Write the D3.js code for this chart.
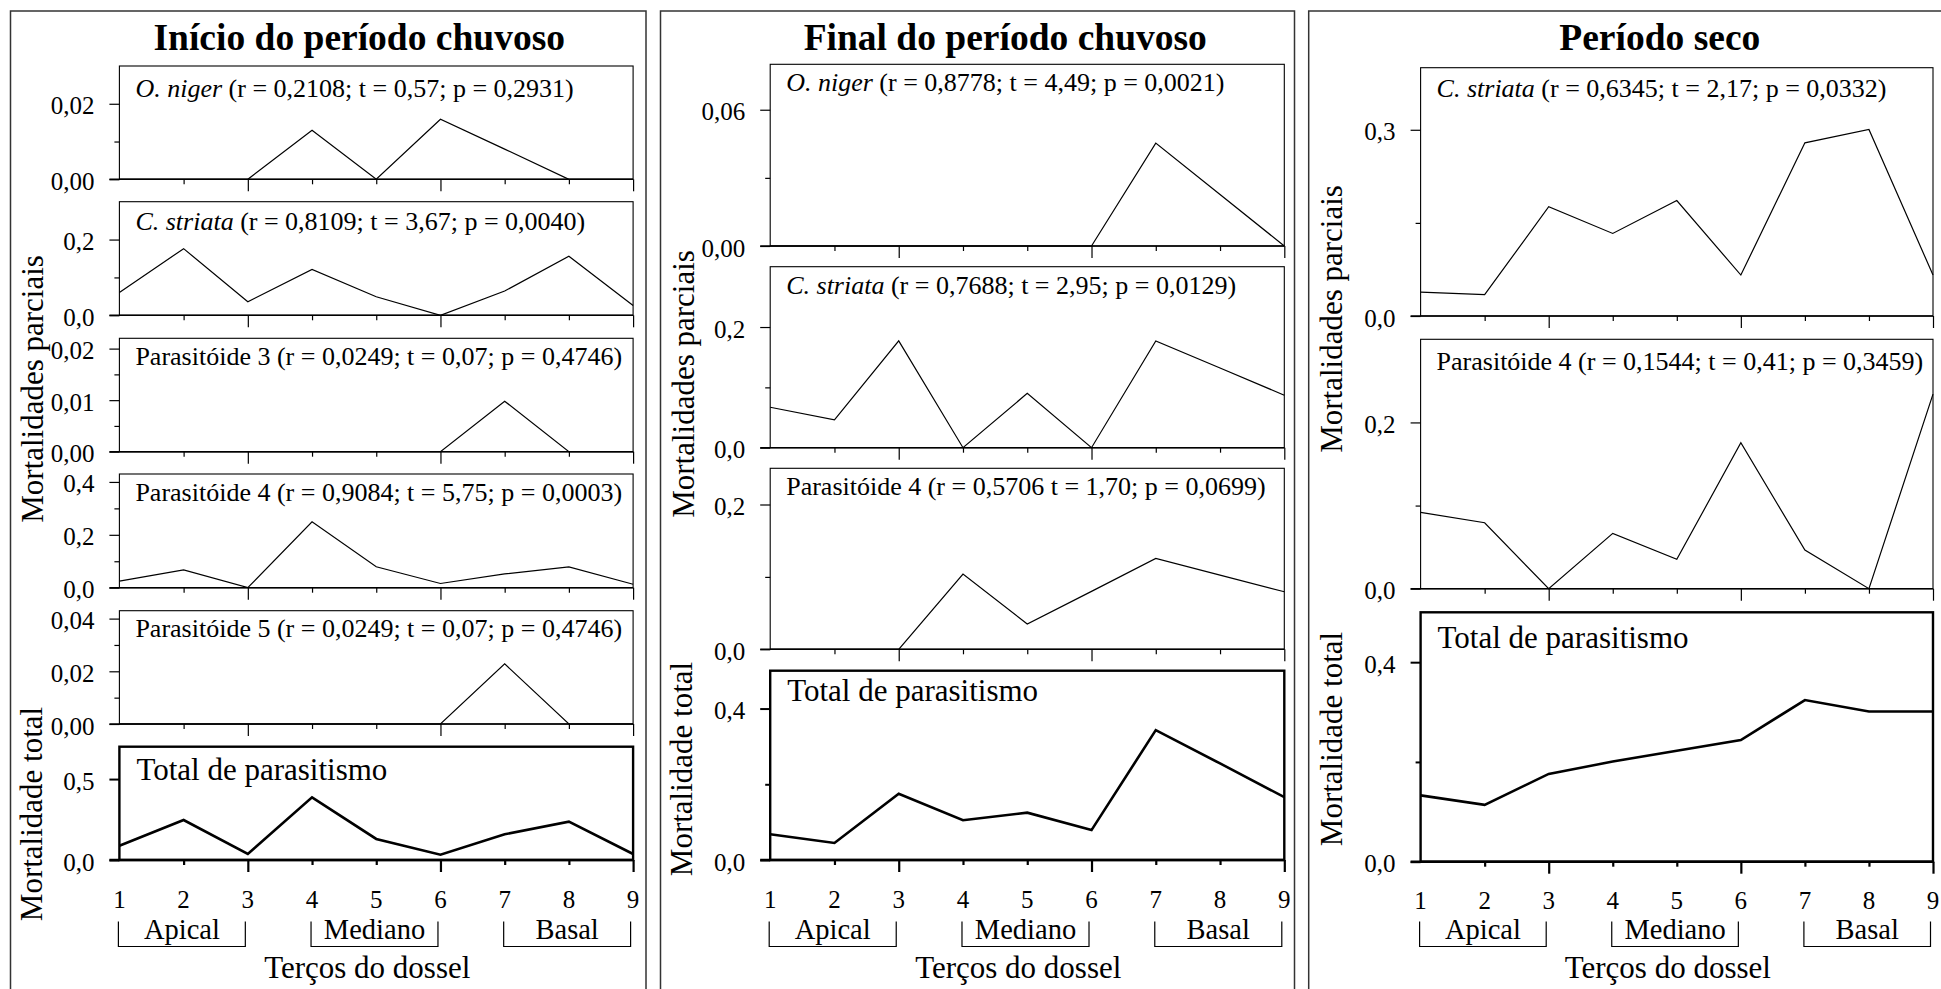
<!DOCTYPE html>
<html>
<head>
<meta charset="utf-8">
<script src="https://cdn.jsdelivr.net/npm/d3@7"></script>
<style>
  html, body { margin: 0; padding: 0; background: #fff; }
  svg { display: block; }
  text { font-family: "Liberation Serif", "Times New Roman", serif; fill: #000; }
</style>
</head>
<body>
<svg id="chart" width="1941" height="989"></svg>
<script>
// ---------------------------------------------------------------------------
// Canopy position (1..9) and the three canopy thirds
const positions = [1, 2, 3, 4, 5, 6, 7, 8, 9];
const thirds = [
  { name: "Apical",  from: 1, to: 3 },
  { name: "Mediano", from: 4, to: 6 },
  { name: "Basal",   from: 7, to: 9 }
];

const periodTitles = ["Início do período chuvoso", "Final do período chuvoso", "Período seco"];
const yTitlePartial = "Mortalidades parciais";
const yTitleTotal = "Mortalidade total";
const xTitle = "Terços do dossel";

// --- Início do período chuvoso ---------------------------------------------
const ini_oNiger    = [0, 0, 0, 0.013, 0, 0.0159, 0.008, 0, 0];
const ini_cStriata  = [0.060, 0.176, 0.036, 0.121, 0.049, 0, 0.064, 0.156, 0.026];
const ini_parasit3  = [0, 0, 0, 0, 0, 0, 0.0098, 0, 0];
const ini_parasit4  = [0.025, 0.0675, 0, 0.249, 0.079, 0.016, 0.052, 0.079, 0.013];
const ini_parasit5  = [0, 0, 0, 0, 0, 0, 0.0228, 0, 0];
const ini_total     = [0.088, 0.247, 0.037, 0.387, 0.130, 0.033, 0.159, 0.237, 0.037];

const ini_labels = [
  ["O. niger", " (r = 0,2108; t = 0,57; p = 0,2931)"],
  ["C. striata", " (r = 0,8109; t = 3,67; p = 0,0040)"],
  ["", "Parasitóide 3 (r = 0,0249; t = 0,07; p = 0,4746)"],
  ["", "Parasitóide 4 (r = 0,9084; t = 5,75; p = 0,0003)"],
  ["", "Parasitóide 5 (r = 0,0249; t = 0,07; p = 0,4746)"],
  ["", "Total de parasitismo"]
];
const ini_ticks = [[0, 0.02], [0, 0.2], [0, 0.01, 0.02], [0, 0.2, 0.4], [0, 0.02, 0.04], [0, 0.5]];
const ini_minor = [[0.01], [0.1], [0.005, 0.015], [0.1, 0.3], [0.01, 0.03], []];

// --- Final do período chuvoso ----------------------------------------------
const fin_oNiger   = [0, 0, 0, 0, 0, 0, 0.0453, 0.0227, 0];
const fin_cStriata = [0.067, 0.046, 0.177, 0, 0.090, 0, 0.177, 0.132, 0.087];
const fin_parasit4 = [0, 0, 0, 0.104, 0.035, 0.080, 0.1255, 0.1025, 0.0795];
const fin_total    = [0.068, 0.045, 0.175, 0.105, 0.125, 0.079, 0.343, 0.255, 0.166];

const fin_labels = [
  ["O. niger", " (r = 0,8778; t = 4,49; p = 0,0021)"],
  ["C. striata", " (r = 0,7688; t = 2,95; p = 0,0129)"],
  ["", "Parasitóide 4 (r = 0,5706 t = 1,70; p = 0,0699)"],
  ["", "Total de parasitismo"]
];
const fin_ticks = [[0, 0.06], [0, 0.2], [0, 0.2], [0, 0.4]];
const fin_minor = [[0.03], [0.1], [0.1], [0.2]];

// --- Período seco -----------------------------------------------------------
const sec_cStriata = [0.0386, 0.0343, 0.176, 0.133, 0.186, 0.066, 0.279, 0.3005, 0.066];
const sec_parasit4 = [0.0918, 0.0793, 0, 0.0666, 0.0353, 0.1755, 0.0465, 0, 0.234];
const sec_total    = [0.133, 0.114, 0.176, 0.2007, 0.2226, 0.244, 0.324, 0.301, 0.301];

const sec_labels = [
  ["C. striata", " (r = 0,6345; t = 2,17; p = 0,0332)"],
  ["", "Parasitóide 4 (r = 0,1544; t = 0,41; p = 0,3459)"],
  ["", "Total de parasitismo"]
];
const sec_ticks = [[0, 0.3], [0, 0.2], [0, 0.4]];
const sec_minor = [[0.15], [0.1], [0.2]];

// ---------------------------------------------------------------------------
// Layout (pixel geometry of each column and its stacked plots)
const W = 1941, H = 989;
const layout = [
  {
    frame: [10.5, 11, 646], plotX: [119.4, 633.1], titleShift: -17,
    partialTitle: { x: 43, y: 389 }, totalTitle: { x: 41.5, y: 814 },
    tickLabelY: 908,
    plots: [
      { top: 66,    bottom: 179.3, max: 0.03,  dec: 2, ly: 30.5 },
      { top: 201.7, bottom: 315.3, max: 0.3,   dec: 1, ly: 28 },
      { top: 338.3, bottom: 451.7, max: 0.022, dec: 2, ly: 27 },
      { top: 474,   bottom: 587.7, max: 0.43,  dec: 1, ly: 26.5 },
      { top: 610.7, bottom: 724,   max: 0.043, dec: 2, ly: 26.5 },
      { top: 746.7, bottom: 860,   max: 0.7,   dec: 1, ly: 33.5, total: true }
    ],
    series: [ini_oNiger, ini_cStriata, ini_parasit3, ini_parasit4, ini_parasit5, ini_total],
    labels: ini_labels, ticks: ini_ticks, minor: ini_minor
  },
  {
    frame: [660.5, 11, 1294.5], plotX: [770.2, 1284.3], titleShift: -22,
    partialTitle: { x: 693.5, y: 384 }, totalTitle: { x: 691.5, y: 769 },
    tickLabelY: 908,
    plots: [
      { top: 64.3,  bottom: 246,   max: 0.08, dec: 2, ly: 27 },
      { top: 266.7, bottom: 447.7, max: 0.3,  dec: 1, ly: 27 },
      { top: 468.3, bottom: 649.3, max: 0.25, dec: 1, ly: 26.5 },
      { top: 670.7, bottom: 860,   max: 0.5,  dec: 1, ly: 30, total: true }
    ],
    series: [fin_oNiger, fin_cStriata, fin_parasit4, fin_total],
    labels: fin_labels, ticks: fin_ticks, minor: fin_minor
  },
  {
    frame: [1308.7, 11, 1960], plotX: [1420.6, 1933], titleShift: -17,
    partialTitle: { x: 1341.8, y: 319 }, totalTitle: { x: 1341.8, y: 739 },
    tickLabelY: 909,
    plots: [
      { top: 67.7,  bottom: 316,   max: 0.4, dec: 1, ly: 29 },
      { top: 339.3, bottom: 588.7, max: 0.3, dec: 1, ly: 30.5 },
      { top: 612.3, bottom: 861.7, max: 0.5, dec: 1, ly: 36, total: true }
    ],
    series: [sec_cStriata, sec_parasit4, sec_total],
    labels: sec_labels, ticks: sec_ticks, minor: sec_minor
  }
];

const FONT_TICK = 25;
const FONT_LABEL = 26;
const FONT_TOTAL_LABEL = 31;
const FONT_AXIS_TITLE = 31;
const FONT_THIRD = 28.5;
const FONT_TITLE = 37.5;

const ptBR = d3.formatLocale({ decimal: ",", thousands: ".", grouping: [3], currency: ["R$", ""] });

const svg = d3.select("#chart");
svg.append("rect").attr("width", W).attr("height", H).attr("fill", "#fff");

layout.forEach((col, ci) => {
  const g = svg.append("g").attr("class", "column");
  const [x0, x1] = col.plotX;
  const x = d3.scaleLinear().domain([1, 9]).range([x0, x1]);

  // outer column frame (runs off the bottom edge)
  g.append("rect")
    .attr("x", col.frame[0]).attr("y", col.frame[1])
    .attr("width", col.frame[2] - col.frame[0]).attr("height", H + 20)
    .attr("fill", "none").attr("stroke", "#333").attr("stroke-width", 1.5);

  // column title
  g.append("text")
    .attr("x", (x0 + x1) / 2 + col.titleShift).attr("y", 50)
    .attr("text-anchor", "middle")
    .attr("font-size", FONT_TITLE).attr("font-weight", "bold")
    .text(periodTitles[ci]);

  col.plots.forEach((p, pi) => {
    const y = d3.scaleLinear().domain([0, p.max]).range([p.bottom, p.top]);
    const sw = p.total ? 2.4 : 1.1;
    const pg = g.append("g").attr("class", "plot");

    // plot frame
    pg.append("rect")
      .attr("x", x0).attr("y", p.top)
      .attr("width", x1 - x0).attr("height", p.bottom - p.top)
      .attr("fill", "none").attr("stroke", "#000").attr("stroke-width", sw);

    // y axis: labelled ticks
    const fmt = ptBR.format("." + p.dec + "f");
    const yAxis = d3.axisLeft(y).tickValues(col.ticks[pi]).tickSize(10).tickPadding(15).tickFormat(fmt);
    const ya = pg.append("g").attr("transform", `translate(${x0},0)`).call(yAxis);
    ya.attr("font-size", FONT_TICK).attr("font-family", null);
    ya.select(".domain").remove();
    ya.selectAll(".tick line").attr("stroke", "#000").attr("stroke-width", p.total ? 2 : 1.2);
    ya.selectAll(".tick text").attr("dy", "0.4em");

    // y axis: minor ticks
    if (col.minor[pi].length) {
      const ym = pg.append("g").attr("transform", `translate(${x0},0)`)
        .call(d3.axisLeft(y).tickValues(col.minor[pi]).tickSize(5).tickFormat(""));
      ym.select(".domain").remove();
      ym.selectAll(".tick line").attr("stroke", "#000").attr("stroke-width", p.total ? 2 : 1.2);
    }

    // x axis ticks: long at 3, 6, 9 and short between
    const xs = pg.append("g").attr("transform", `translate(0,${p.bottom})`)
      .call(d3.axisBottom(x).tickValues([2, 4, 5, 7, 8]).tickSize(5).tickFormat(""));
    xs.select(".domain").remove();
    xs.selectAll(".tick line").attr("stroke", "#000").attr("stroke-width", p.total ? 2.2 : 1.2);
    const xl = pg.append("g").attr("transform", `translate(0,${p.bottom})`)
      .call(d3.axisBottom(x).tickValues([3, 6, 9]).tickSize(12).tickFormat(""));
    xl.select(".domain").remove();
    xl.selectAll(".tick line").attr("stroke", "#000").attr("stroke-width", p.total ? 2.2 : 1.2);

    // x axis line (extends left as the zero tick)
    pg.append("line")
      .attr("x1", x0 - 10).attr("x2", x1)
      .attr("y1", p.bottom).attr("y2", p.bottom)
      .attr("stroke", "#000").attr("stroke-width", p.total ? 2.4 : 1.5);

    // series line
    const pts = positions.map((pos, i) => ({ pos, v: col.series[pi][i] }));
    pg.append("path")
      .datum(pts)
      .attr("fill", "none").attr("stroke", "#000")
      .attr("stroke-width", p.total ? 2.6 : 1.2)
      .attr("stroke-linejoin", "miter")
      .attr("d", d3.line().x(d => x(d.pos)).y(d => y(d.v)));

    // plot label
    const lab = col.labels[pi];
    const t = pg.append("text")
      .attr("x", x0 + (p.total ? 17 : 16))
      .attr("y", p.top + p.ly)
      .attr("font-size", p.total ? FONT_TOTAL_LABEL : FONT_LABEL);
    if (lab[0]) t.append("tspan").attr("font-style", "italic").text(lab[0]);
    t.append("tspan").text(lab[1]);
  });

  // x tick labels
  g.selectAll("text.xnum").data(positions).join("text")
    .attr("class", "xnum")
    .attr("x", d => x(d)).attr("y", col.tickLabelY)
    .attr("text-anchor", "middle").attr("font-size", FONT_TICK)
    .text(d => d);

  // canopy-third brackets
  const bTop = 921.5, bBot = 946.5;
  thirds.forEach(th => {
    const a = x(th.from) - 1, b = x(th.to) - 2.5;
    g.append("path")
      .attr("d", `M${a},${bTop}V${bBot}H${b}V${bTop}`)
      .attr("fill", "none").attr("stroke", "#000").attr("stroke-width", 1.2);
    g.append("text")
      .attr("x", (a + b) / 2).attr("y", 938.5)
      .attr("text-anchor", "middle").attr("font-size", FONT_THIRD)
      .text(th.name);
  });

  // x axis title
  g.append("text")
    .attr("x", (x0 + x1) / 2 - 9).attr("y", 977.5)
    .attr("text-anchor", "middle").attr("font-size", FONT_AXIS_TITLE)
    .text(xTitle);

  // y axis titles
  g.append("text")
    .attr("transform", `translate(${col.partialTitle.x},${col.partialTitle.y}) rotate(-90)`)
    .attr("text-anchor", "middle").attr("font-size", FONT_AXIS_TITLE)
    .text(yTitlePartial);
  g.append("text")
    .attr("transform", `translate(${col.totalTitle.x},${col.totalTitle.y}) rotate(-90)`)
    .attr("text-anchor", "middle").attr("font-size", FONT_AXIS_TITLE)
    .text(yTitleTotal);
});
</script>
</body>
</html>
